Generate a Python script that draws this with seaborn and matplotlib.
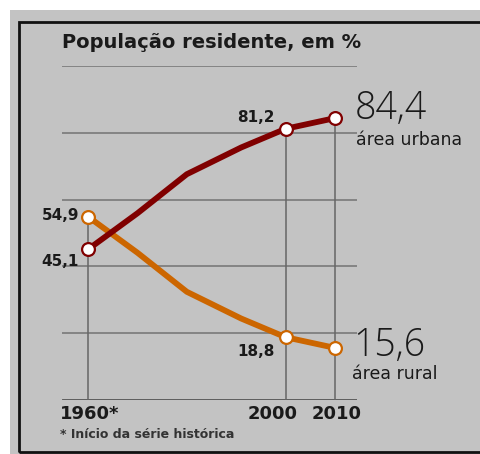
import matplotlib
matplotlib.use("Agg")
import matplotlib.pyplot as plt
from matplotlib.patches import Rectangle
import seaborn as sns
import pandas as pd

years = [1960, 1970, 1980, 1991, 2000, 2010]
urbana = [45.1, 55.9, 67.6, 75.6, 81.2, 84.4]
rural = [54.9, 44.1, 32.4, 24.4, 18.8, 15.6]
marked_years = [1960, 2000, 2010]
tick_labels = ["1960*", "2000", "2010"]
title = "População residente, em %"
footnote = "* Início da série histórica"

sns.set_style("white")
plt.rcParams["font.family"] = ["DejaVu Sans"]

W, H = 480, 454
fig = plt.figure(figsize=(W / 100, H / 100), dpi=100, facecolor="white")

def fx(px):
    return px / W

def fy(py):
    return 1 - py / H

BG = "#c3c3c3"
URB = "#800000"
RUR = "#cc6600"

fig.patches.append(Rectangle((fx(10), 0), 1 - fx(10), fy(10), transform=fig.transFigure,
                             facecolor=BG, edgecolor="none", zorder=-10))
fig.patches.append(Rectangle((fx(19), fy(452)), 1.2, fy(22) - fy(452), transform=fig.transFigure,
                             facecolor="none", edgecolor="#111111", linewidth=2, zorder=-9))

ax = fig.add_axes([fx(62), fy(400), fx(357) - fx(62), fy(66) - fy(400)])
ax.set_facecolor("none")
ax.set_zorder(2)

df = pd.DataFrame({"ano": years, "urbana": urbana, "rural": rural})

for v in [20, 40, 60, 80, 100]:
    ax.axhline(v, color="#737373", lw=1.1, zorder=1)
ax.axhline(0, color="#555555", lw=2, zorder=1)

for yr in marked_years:
    top = max(df.loc[df.ano == yr, "urbana"].iloc[0], df.loc[df.ano == yr, "rural"].iloc[0])
    ax.plot([yr, yr], [0, top], color="#666666", lw=1.1, zorder=1)

sns.lineplot(data=df, x="ano", y="rural", color=RUR, lw=4.2, ax=ax, zorder=3,
             solid_capstyle="round", solid_joinstyle="round")
sns.lineplot(data=df, x="ano", y="urbana", color=URB, lw=4.2, ax=ax, zorder=4,
             solid_capstyle="round", solid_joinstyle="round")

dm = df[df.ano.isin(marked_years)]
ax.scatter(dm.ano, dm.rural, s=85, facecolor="white", edgecolor=RUR, linewidth=1.6, zorder=5)
ax.scatter(dm.ano, dm.urbana, s=85, facecolor="white", edgecolor=URB, linewidth=1.6, zorder=6)

ax.set_xlim(1954.73, 2014.46)
ax.set_ylim(0, 100)
for s in ax.spines.values():
    s.set_visible(False)
ax.set_xticks([])
ax.set_yticks([])
ax.set_xlabel("")
ax.set_ylabel("")

tc = "#1a1a1a"
def label(px, py, s, **kw):
    fig.text(fx(px), fy(py), s, transform=fig.transFigure, **kw)

def fmt(v):
    return f"{v:.1f}".replace(".", ",")

label(62, 43, title, fontsize=14, fontweight="bold", color=tc, va="center", ha="left")

vs = 11
label(275, 118, fmt(urbana[4]), fontsize=vs, fontweight="bold", color=tc, ha="right", va="center")
label(79, 216, fmt(rural[0]), fontsize=vs, fontweight="bold", color=tc, ha="right", va="center")
label(79, 262, fmt(urbana[0]), fontsize=vs, fontweight="bold", color=tc, ha="right", va="center")
label(275, 352, fmt(rural[4]), fontsize=vs, fontweight="bold", color=tc, ha="right", va="center")

big = dict(fontsize=27, fontweight="light", color=tc, ha="left", va="center",
           family=["Open Sans", "DejaVu Sans"])
label(355, 109, fmt(urbana[-1]), **big)
label(356, 140, "área urbana", fontsize=12.5, color=tc, ha="left", va="center")
label(353, 346, fmt(rural[-1]), **big)
label(352, 374, "área rural", fontsize=12.5, color=tc, ha="left", va="center")

ts = 13
label(60, 414, tick_labels[0], fontsize=ts, fontweight="bold", color=tc, ha="left", va="center")
label(273, 414, tick_labels[1], fontsize=ts, fontweight="bold", color=tc, ha="center", va="center")
label(337, 414, tick_labels[2], fontsize=ts, fontweight="bold", color=tc, ha="center", va="center")
label(60, 435, footnote, fontsize=9, fontweight="bold", color="#333333", ha="left", va="center")

fig.savefig("out.png", dpi=100, facecolor="white")
